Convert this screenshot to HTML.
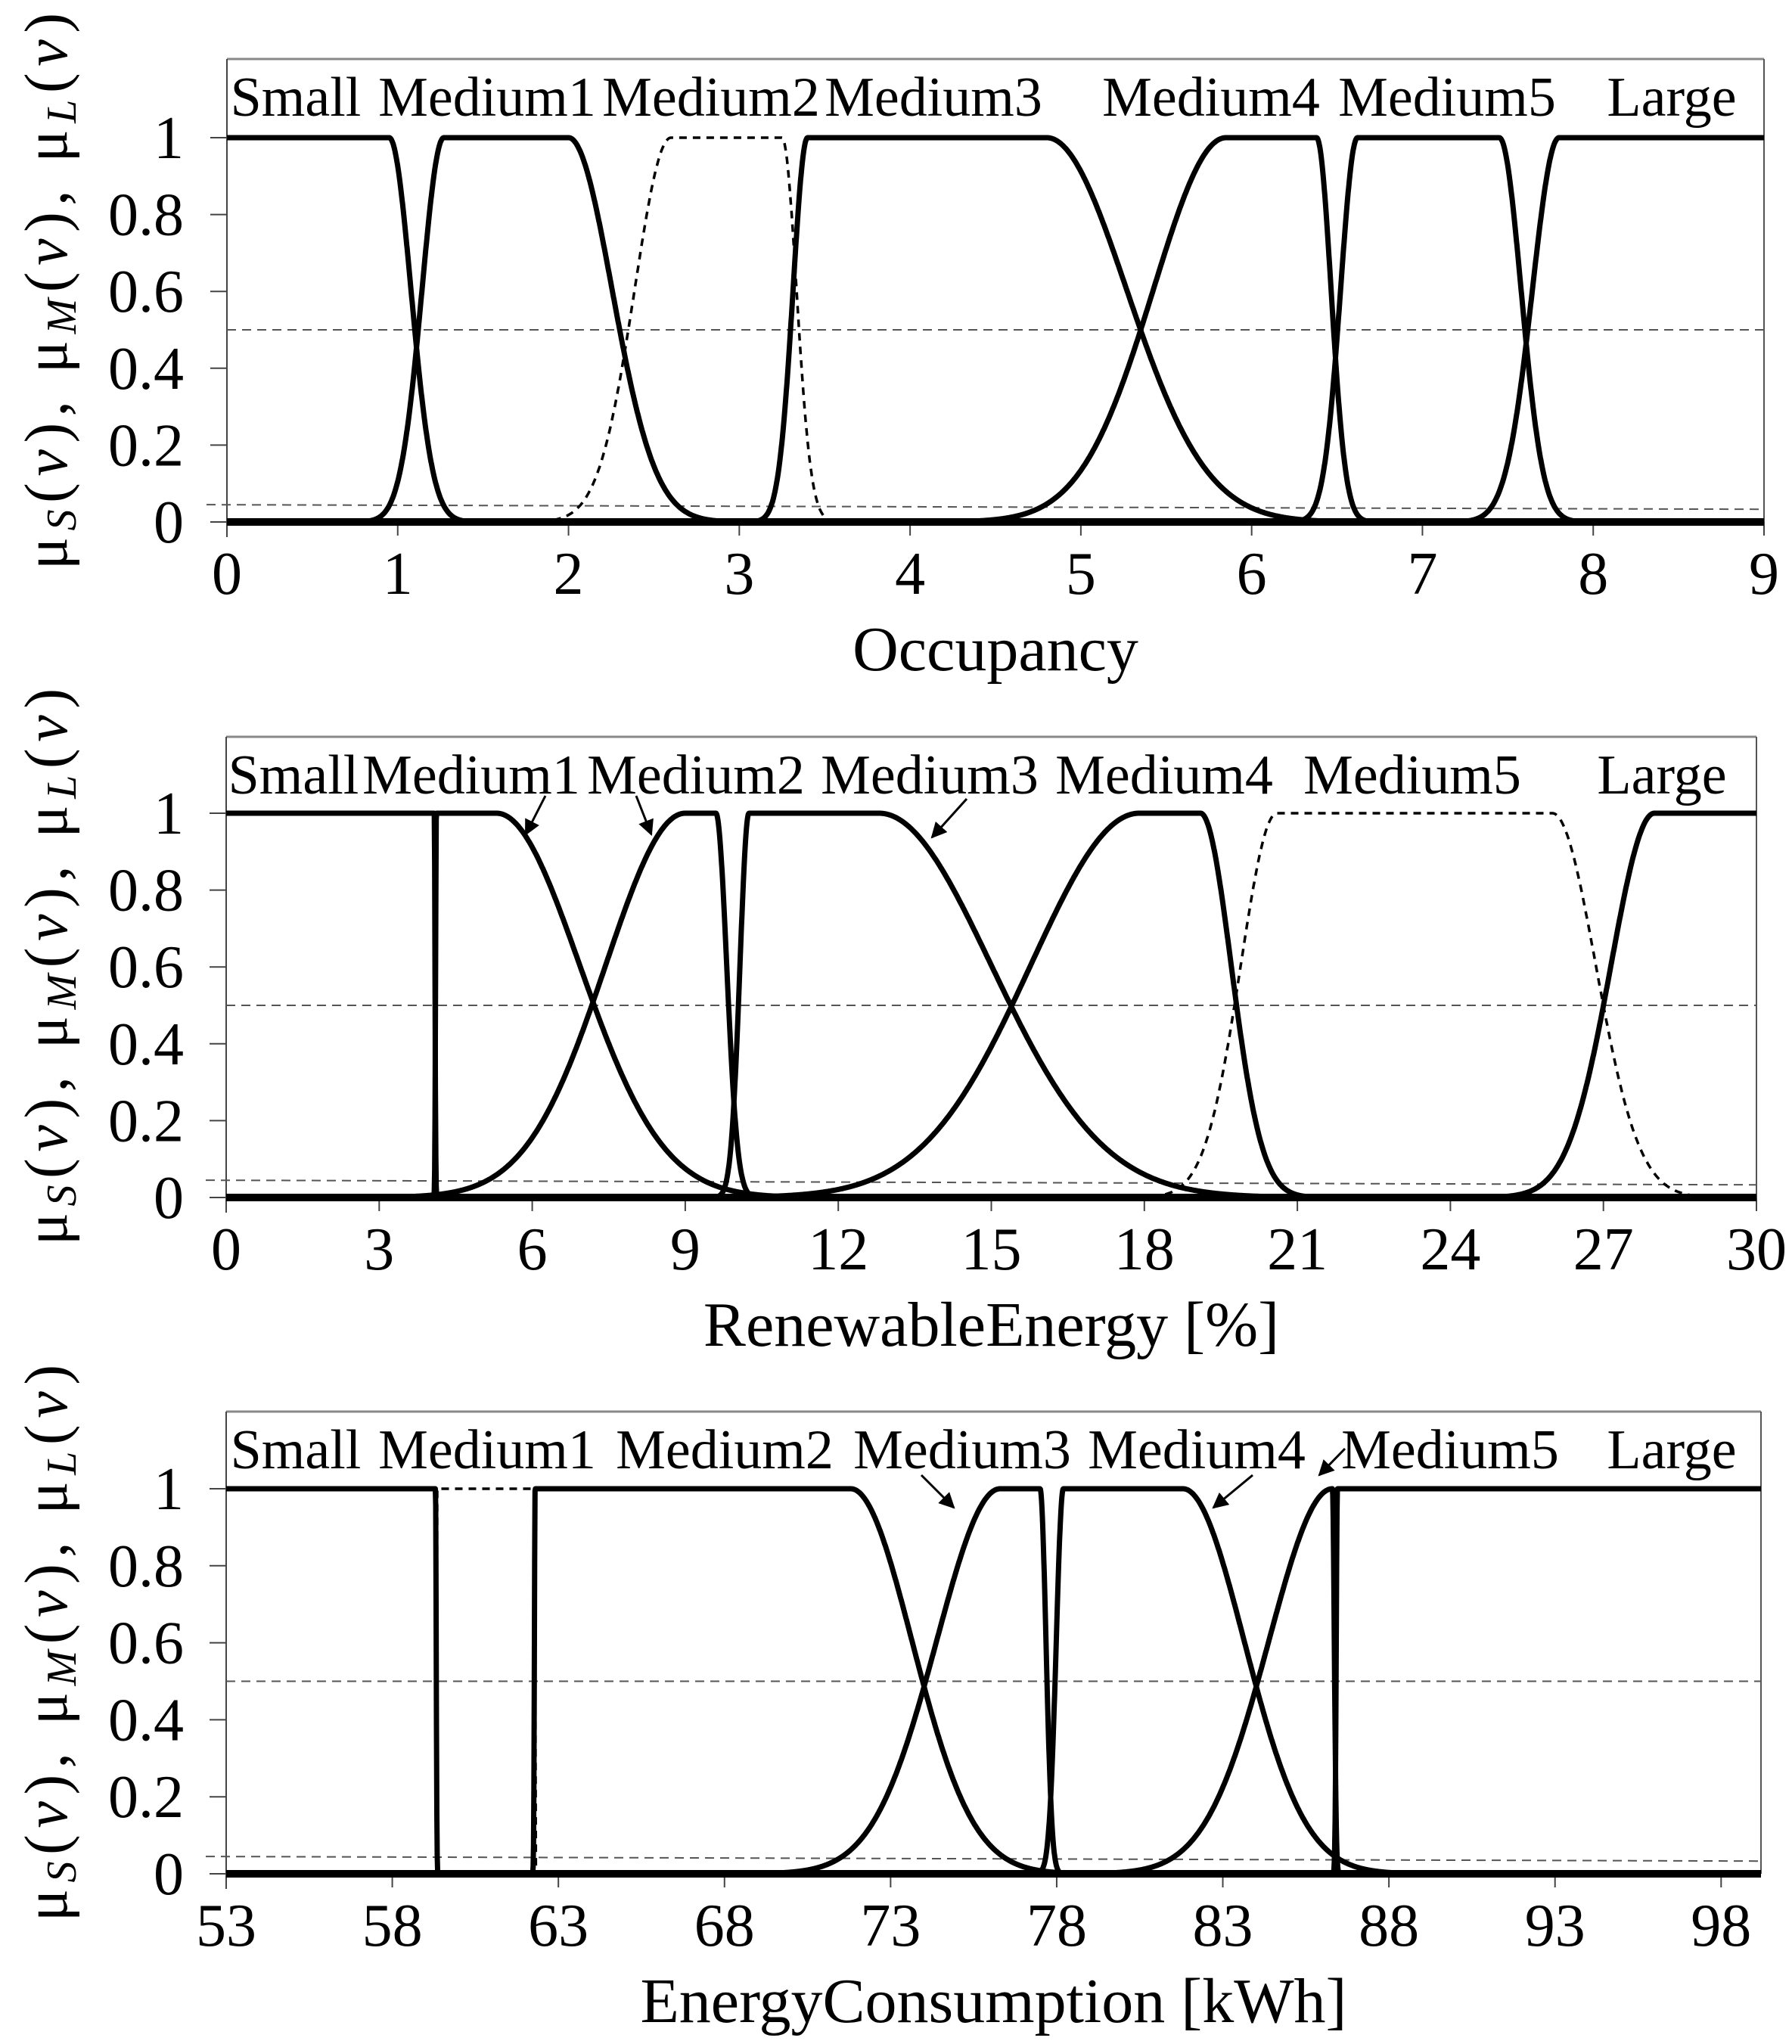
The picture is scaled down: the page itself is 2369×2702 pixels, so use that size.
<!DOCTYPE html>
<html><head><meta charset="utf-8">
<style>
html,body{margin:0;padding:0;background:#fff;}
svg{display:block;font-family:"Liberation Serif",serif;}
</style></head>
<body>
<svg id="fig" width="2369" height="2702" viewBox="0 0 2369 2702" xmlns="http://www.w3.org/2000/svg"></svg>
<script>
// ---- Panel 1: Occupancy ----
const occNames = ["Small","Medium1","Medium2","Medium3","Medium4","Medium5","Large"];
const occC1 = [null, 1.27, 2.6, 3.4, 5.85, 6.62, 7.8];
const occS1 = [0, 0.18, 0.30, 0.12, 0.60, 0.14, 0.22];
const occC2 = [0.95, 2.0, 3.25, 4.8, 6.38, 7.45, null];
const occS2 = [0.18, 0.36, 0.12, 0.66, 0.12, 0.18, 0];
const occDashed = [false,false,true,false,false,false,false];
const occTicks = ["0","1","2","3","4","5","6","7","8","9"];
// ---- Panel 2: Renewable energy ----
const renNames = ["Small","Medium1","Medium2","Medium3","Medium4","Medium5","Large"];
const renC1 = [null, 4.12, 9.0, 10.25, 17.9, 20.6, 28.0];
const renS1 = [0, 0.02, 2.2, 0.25, 3.0, 1.0, 1.2];
const renC2 = [4.08, 5.3, 9.6, 12.8, 19.1, 26.0, null];
const renS2 = [0.02, 2.3, 0.3, 3.1, 0.85, 1.2, 0];
const renDashed = [false,false,false,false,false,true,false];
const renTicks = ["0","3","6","9","12","15","18","21","24","27","30"];
// ---- Panel 3: Energy consumption ----
const encNames = ["Small","Medium1","Medium2","Medium3","Medium4","Medium5","Large"];
const encC1 = [null, 59.35, 62.3, 76.3, 78.2, 86.3, 86.45];
const encS1 = [0, 0.01, 0.03, 2.7, 0.3, 2.7, 0.05];
const encC2 = [59.3, 62.3, 71.8, 77.5, 81.8, 86.3, null];
const encS2 = [0.03, 0.01, 2.6, 0.25, 2.6, 0.08, 0];
const encDashed = [false,true,false,false,false,false,false];
const encTicks = ["53","58","63","68","73","78","83","88","93","98"];

const NS="http://www.w3.org/2000/svg";
const svg=document.getElementById('fig');
function mk(tag,attrs,parent){const e=document.createElementNS(NS,tag);for(const k in attrs)e.setAttribute(k,attrs[k]);(parent||svg).appendChild(e);return e;}

const panels=[
 {key:"occupancy",names:occNames,c1:occC1,s1:occS1,c2:occC2,s2:occS2,dashed:occDashed,ticks:occTicks,xmin:0,xmax:9,
  left:300,right:2332,top:78,y1:182,y0:690,xlabel:"Occupancy",
  labelX:[391,644,940,1234,1601,1913,2210],arrows:[]},
 {key:"renewable",names:renNames,c1:renC1,s1:renS1,c2:renC2,s2:renS2,dashed:renDashed,ticks:renTicks,xmin:0,xmax:30,
  left:299,right:2322,top:974,y1:1075,y0:1583,xlabel:"RenewableEnergy [%]",
  labelX:[388,623,920,1229,1539,1867,2197],
  arrows:[[721,1052,695,1103],[841,1052,861,1103],[1278,1056,1232,1107]]},
 {key:"energy",names:encNames,c1:encC1,s1:encS1,c2:encC2,s2:encS2,dashed:encDashed,ticks:encTicks,xmin:53,xmax:99.2,
  left:299,right:2328,top:1866,y1:1968,y0:2477,xlabel:"EnergyConsumption [kWh]",
  labelX:[391,644,958,1272,1582,1917,2210],
  arrows:[[1218,1950,1261,1993],[1656,1950,1604,1993],[1778,1915,1744,1950]]}
];

mk('defs',{}).innerHTML='<marker id="ah" viewBox="0 0 10 10" refX="9" refY="5" markerWidth="7" markerHeight="7" orient="auto"><path d="M0,0 L10,5 L0,10 z" fill="#000"/></marker>';

panels.forEach(p=>{
  const g=mk('g',{});
  
  
  const sx=v=>p.left+(v-p.xmin)*((p.right-p.left)/(p.xmax-p.xmin));
  const sy=v=>p.y0-(p.y0-p.y1)*v;
  const fr=mk('g',{},g);
  
  
  mk('line',{x1:p.left,y1:p.top,x2:p.right,y2:p.top,stroke:'#888','stroke-width':3},fr);
  mk('line',{x1:p.right,y1:p.top,x2:p.right,y2:p.y0,stroke:'#555','stroke-width':2},fr);
  mk('line',{x1:p.left,y1:p.top,x2:p.left,y2:p.y0+20,stroke:'#444','stroke-width':2},fr);
  const r1=mk('line',{x1:p.left,y1:sy(0.5),x2:p.right,y2:sy(0.5),stroke:'#555','stroke-width':2,'stroke-dasharray':'12 8'},g);
  
  
  const r2=mk('line',{x1:p.left-27,y1:sy(0.045),x2:p.right,y2:sy(0.033),stroke:'#555','stroke-width':2,'stroke-dasharray':'12 8'},g);
  
  
  [0,0.2,0.4,0.6,0.8,1].forEach(v=>{
    mk('line',{x1:p.left-22,y1:sy(v),x2:p.left,y2:sy(v),stroke:'#444','stroke-width':2},g);
    const t=mk('text',{x:243,y:sy(v)+27,'font-size':80,'text-anchor':'end'},g);
    t.textContent=(v===0?'0':v===1?'1':v.toFixed(1));
    
    
  });
  p.ticks.forEach(s=>{
    const v=parseFloat(s);const x=sx(v);
    mk('line',{x1:x,y1:p.y0,x2:x,y2:p.y0+18,stroke:'#444','stroke-width':2},g);
    const t=mk('text',{x:x,y:p.y0+95,'font-size':80,'text-anchor':'middle'},g);
    t.textContent=s;
    
    
  });
  const xl=mk('text',{x:(p.left+p.right)/2,y:p.y0+196,'font-size':84,'text-anchor':'middle'},g);
  xl.textContent=p.xlabel;
  
  
  const yl=mk('text',{x:0,y:0,'font-size':80,transform:'translate(88,'+(p.y0+63)+') rotate(-90)',textLength:736,lengthAdjust:'spacing'},g);
  yl.innerHTML='μ<tspan font-style="italic" font-size="56" dy="12">S</tspan><tspan dy="-12">(</tspan><tspan font-style="italic">v</tspan>),  μ<tspan font-style="italic" font-size="56" dy="12">M</tspan><tspan dy="-12">(</tspan><tspan font-style="italic">v</tspan>),  μ<tspan font-style="italic" font-size="56" dy="12">L</tspan><tspan dy="-12">(</tspan><tspan font-style="italic">v</tspan>)';
  
  
  const base=mk('line',{x1:p.left,y1:p.y0,x2:p.right,y2:p.y0,stroke:'#000','stroke-width':10},g);
  
  
  p.names.forEach((nm,i)=>{
    const c1=p.c1[i],s1=p.s1[i],c2=p.c2[i],s2=p.s2[i];
    const f=x=>{ if(c1!==null && x<c1) return Math.exp(-Math.pow((x-c1)/s1,2));
                 if(c2!==null && x>c2) return Math.exp(-Math.pow((x-c2)/s2,2)); return 1;};
    const N=4000;let d='';
    for(let k=0;k<=N;k++){const x=p.xmin+(p.xmax-p.xmin)*k/N;d+=(k?'L':'M')+sx(x).toFixed(1)+','+sy(f(x)).toFixed(1);}
    const path=mk('path',{d:d,fill:'none',stroke:'#000','stroke-width':p.dashed[i]?3.5:7,'stroke-linejoin':'round'},g);
    if(p.dashed[i]) path.setAttribute('stroke-dasharray','10 8');
    
    
    const t=mk('text',{x:p.labelX[i],y:p.top+75,'font-size':74,'text-anchor':'middle'},g);
    t.textContent=nm;
    
    
  });
  p.arrows.forEach(a=>{
    const l=mk('line',{x1:a[0],y1:a[1],x2:a[2],y2:a[3],stroke:'#000','stroke-width':3,'marker-end':'url(#ah)'},g);
    
    
  });
});
</script>
</body></html>
